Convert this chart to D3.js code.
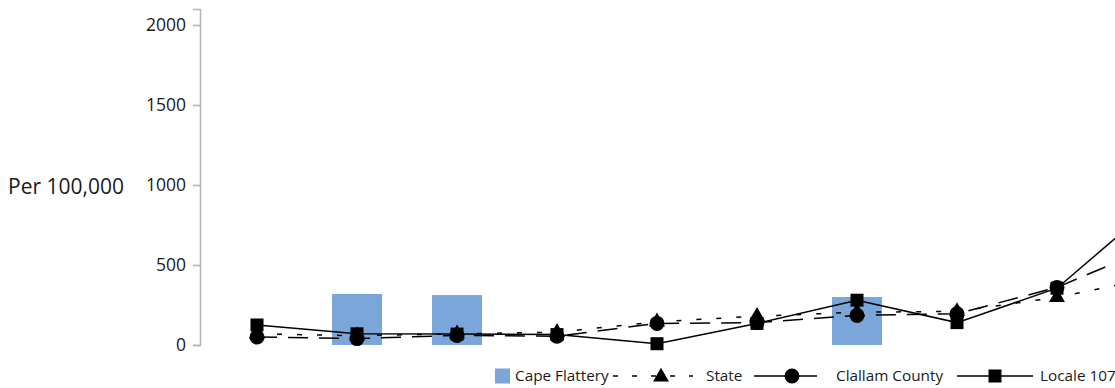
<!DOCTYPE html>
<html>
<head>
<meta charset="utf-8">
<script src="https://cdn.jsdelivr.net/npm/d3@7"></script>
<style>
  html, body { margin: 0; padding: 0; background: #fff; overflow: hidden; }
  svg { display: block; }
  text { font-family: "Open Sans", "Noto Sans", sans-serif; fill: #1a1a1a; }
</style>
</head>
<body>
<svg id="chart" width="1115" height="388"></svg>
<script>
const categories = ["C1", "C2", "C3", "C4", "C5", "C6", "C7", "C8", "C9", "C10"];
const capeFlattery = [null, 319, 312, null, null, null, 300, null, null, null];
const state        = [70, 58, 70, 80, 145, 180, 205, 210, 298, 425];
const clallam      = [50, 40, 60, 55, 135, 140, 185, 195, 360, 625];
const locale       = [125, 70, 68, 65, 8, 135, 280, 140, 355, 890];
const yTicks = [0, 500, 1000, 1500, 2000];
const yLabel = "Per 100,000";
const legendLabels = ["Cape Flattery", "State", "Clallam County", "Locale 107"];

const svg = d3.select("#chart");
const x = d3.scaleBand().domain(categories).range([207, 1207]).paddingInner(0.5).paddingOuter(0.25);
const y = d3.scaleLinear().domain([0, 2100]).range([345, 9]);
const cx = c => x(c) + x.bandwidth() / 2;

// y axis
const yAxis = d3.axisLeft(y).tickValues(yTicks).tickSize(7).tickPadding(7).tickFormat(d3.format("d"));
const gy = svg.append("g").attr("transform", "translate(200,0)").call(yAxis);
gy.select(".domain").attr("stroke", "#b3b3b3").attr("stroke-width", 1.5);
gy.selectAll(".tick line").attr("stroke", "#b3b3b3").attr("stroke-width", 1.5);
gy.selectAll(".tick text").style("font-size", "17.5px").attr("fill", "#1a1a1a").style("font-family", "'Open Sans', sans-serif");

svg.append("text").attr("x", 8).attr("y", y(1000) + 2).attr("dy", "0.35em")
  .style("font-size", "21px").text(yLabel);

// bars
svg.append("g").selectAll("rect")
  .data(categories.map((c, i) => ({c, v: capeFlattery[i]})).filter(d => d.v != null))
  .join("rect")
  .attr("x", d => x(d.c)).attr("width", x.bandwidth())
  .attr("y", d => y(d.v)).attr("height", d => y(0) - y(d.v))
  .attr("fill", "#7ba6d9");

const series = [
  {name: "Locale 107", values: locale, dash: null, marker: "square"},
  {name: "State", values: state, dash: "5,15", marker: "triangle"},
  {name: "Clallam County", values: clallam, dash: "20,11", marker: "circle"}
];

const line = d3.line().x((d, i) => cx(categories[i])).y(d => y(d));

series.forEach(s => {
  svg.append("path").datum(s.values)
    .attr("d", line).attr("fill", "none").attr("stroke", "#000")
    .attr("stroke-width", 1.5).attr("stroke-dasharray", s.dash);
});

function marker(g, type, px, py) {
  if (type === "circle") g.append("circle").attr("cx", px).attr("cy", py).attr("r", 7.5).attr("fill", "#000");
  else if (type === "square") g.append("rect").attr("x", px - 6.5).attr("y", py - 6.5).attr("width", 13).attr("height", 13).attr("fill", "#000");
  else g.append("path").attr("d", d3.symbol().type(d3.symbolTriangle).size(110)()).attr("transform", `translate(${px},${py})`).attr("fill", "#000");
}

series.forEach(s => {
  const g = svg.append("g");
  s.values.forEach((v, i) => marker(g, s.marker, cx(categories[i]), y(v)));
});

// legend
const ly = 376;
const lg = svg.append("g").style("font-size", "15.3px");
lg.append("rect").attr("x", 495).attr("y", ly - 7.5).attr("width", 15).attr("height", 15).attr("fill", "#7ba6d9");
lg.append("text").attr("x", 515).attr("y", ly).attr("dy", "0.35em").text(legendLabels[0]);

lg.append("line").attr("x1", 613).attr("x2", 693).attr("y1", ly).attr("y2", ly).attr("stroke", "#000").attr("stroke-width", 1.5).attr("stroke-dasharray", "5,14");
marker(lg, "triangle", 661, ly + 1);
lg.append("text").attr("x", 706).attr("y", ly).attr("dy", "0.35em").text(legendLabels[1]);

lg.append("line").attr("x1", 754).attr("x2", 817).attr("y1", ly).attr("y2", ly).attr("stroke", "#000").attr("stroke-width", 1.5);
marker(lg, "circle", 792, ly);
lg.append("text").attr("x", 836).attr("y", ly).attr("dy", "0.35em").text(legendLabels[2]);

lg.append("line").attr("x1", 957).attr("x2", 1033).attr("y1", ly).attr("y2", ly).attr("stroke", "#000").attr("stroke-width", 1.5);
marker(lg, "square", 995, ly);
lg.append("text").attr("x", 1040).attr("y", ly).attr("dy", "0.35em").text(legendLabels[3]);
</script>
</body>
</html>
